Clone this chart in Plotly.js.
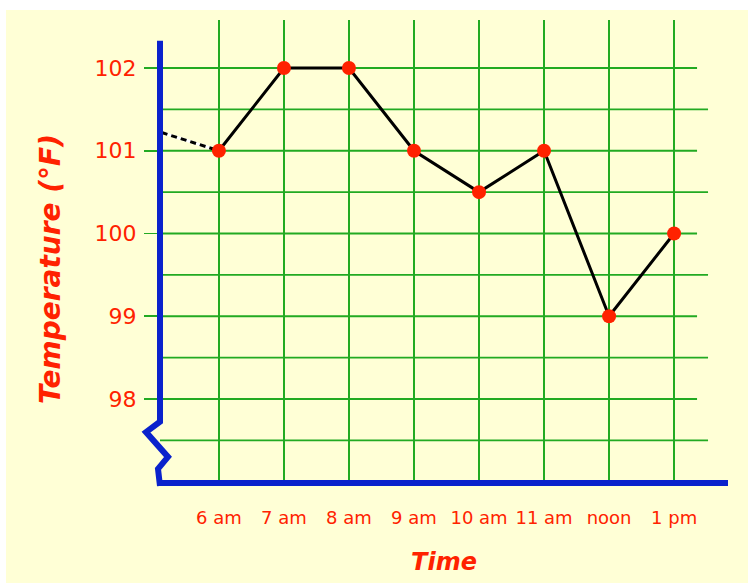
<!DOCTYPE html>
<html>
<head>
<meta charset="utf-8">
<script src="https://cdn.plot.ly/plotly-3.0.1.min.js"></script>
<style>
  html, body { margin: 0; padding: 0; background: #ffffff; }
  #chart { position: absolute; left: 6px; top: 10px; width: 742px; height: 573px; }
</style>
</head>
<body>
<div id="chart"></div>
<script>
// ---- data ----
var timeLabels = ["6 am", "7 am", "8 am", "9 am", "10 am", "11 am", "noon", "1 pm"];
var temperatures = [101, 102, 102, 101, 100.5, 101, 99, 100];
var earlierX = [-0.88, 0];          // trend before 6 am (dashed)
var earlierTemps = [101.22, 101];
var yTickVals = [98, 99, 100, 101, 102];
var yTickText = ["98", "99", "100", "101", "102"];
var minorGrid = [97.5, 98.5, 99.5, 100.5, 101.5];
var majorGrid = [98, 99, 100, 101, 102];

var idx = timeLabels.map(function (_, i) { return i; });

var RED = "#ff2200", GREEN = "#22aa22", BLUE = "#0a22cc", CREAM = "#ffffd6";
var FONT = "DejaVu Sans, sans-serif";

var ML = 154, MR = 20, MT = 10, MB = 100;
var plotW = 742 - ML - MR;  // plot area width in px
var plotH = 573 - MT - MB;  // plot area height in px
var Y0 = 96.985, Y1 = 102.58;
function px(p) { return p / plotW; }
function py(v) { return (v - Y0) / (Y1 - Y0); }

var shapes = [];
majorGrid.forEach(function (v) {
  shapes.push({type: "line", xref: "x", yref: "y", x0: -0.906, x1: 7.353, y0: v, y1: v,
    line: {color: GREEN, width: 1.8}, layer: "below"});
});
minorGrid.forEach(function (v) {
  shapes.push({type: "line", xref: "x", yref: "y", x0: -0.906, x1: 7.522, y0: v, y1: v,
    line: {color: GREEN, width: 1.8}, layer: "below"});
});
// y axis with break (zigzag), paper coordinates so it is not clipped
shapes.push({type: "path", xref: "paper", yref: "paper",
  path: "M 0 " + py(102.33) + " L 0 " + py(97.725) + " L " + px(-14) + " " + py(97.60) +
        " L " + px(8) + " " + py(97.30) + " L " + px(-2) + " " + py(97.155) + " L 0 " + (-3 / plotH),
  line: {color: BLUE, width: 6}, layer: "above"});
// x axis
shapes.push({type: "line", xref: "paper", yref: "paper", x0: px(-3), x1: 1, y0: 0, y1: 0,
  line: {color: BLUE, width: 6}, layer: "above"});

var traces = [
  {x: earlierX, y: earlierTemps, mode: "lines", type: "scatter", hoverinfo: "skip",
   line: {color: "#ffffff", width: 3}, showlegend: false},
  {x: earlierX, y: earlierTemps, mode: "lines", type: "scatter", hoverinfo: "skip",
   line: {color: "#000000", width: 3, dash: "6px,4px"}, showlegend: false},
  {x: idx, y: temperatures, mode: "lines+markers", type: "scatter", name: "Temperature",
   line: {color: "#000000", width: 3},
   marker: {color: RED, size: 14}, showlegend: false}
];

var layout = {
  width: 742, height: 573,
  paper_bgcolor: CREAM, plot_bgcolor: "rgba(0,0,0,0)",
  margin: {l: ML, r: MR, t: MT, b: MB},
  showlegend: false,
  font: {family: FONT, color: RED},
  xaxis: {
    range: [-0.906, 7.829], tickvals: idx, ticktext: timeLabels,
    showgrid: true, gridcolor: GREEN, gridwidth: 1.8, zeroline: false, showline: false,
    ticks: "", ticklabelstandoff: 22,
    tickfont: {family: FONT, size: 18, color: RED},
    title: {text: "<b><i>Time</i></b>", font: {family: FONT, size: 24, color: RED}, standoff: 26}
  },
  yaxis: {
    range: [Y0, Y1], tickvals: yTickVals, ticktext: yTickText,
    showgrid: false, zeroline: false, showline: false,
    ticks: "outside", ticklen: 15, tickcolor: GREEN, tickwidth: 1.8, ticklabelstandoff: 3,
    tickfont: {family: FONT, size: 22, color: RED}
  },
  annotations: [{
    text: "<b><i>Temperature (°F)</i></b>", textangle: -90, showarrow: false,
    xref: "paper", yref: "paper", x: (44 - ML) / plotW, y: (MT + plotH - 259) / plotH,
    xanchor: "center", yanchor: "middle",
    font: {family: FONT, size: 28, color: RED}
  }],
  shapes: shapes
};

Plotly.newPlot("chart", traces, layout, {displayModeBar: false, staticPlot: true});
</script>
</body>
</html>
